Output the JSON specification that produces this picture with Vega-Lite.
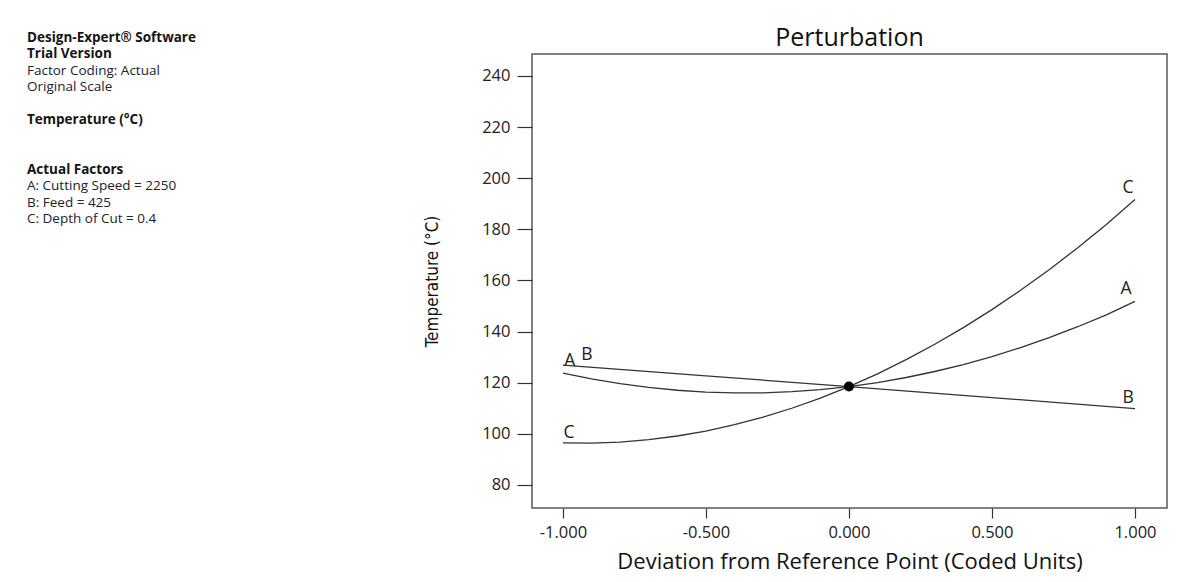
{
  "$schema": "https://vega.github.io/schema/vega-lite/v6.json",
  "background": "white",
  "padding": {"left": 27, "top": 25, "right": 5, "bottom": 2},
  "spacing": 0,
  "config": {"font": "Open Sans", "view": {"stroke": null}},
  "hconcat": [
    {
      "width": 395,
      "height": 220,
      "view": {"stroke": null},
      "data": {"values": [
        {"line": 0, "text": "Design-Expert® Software", "role": "heading"},
        {"line": 1, "text": "Trial Version", "role": "heading"},
        {"line": 2, "text": "Factor Coding: Actual", "role": "info"},
        {"line": 3, "text": "Original Scale", "role": "info"},
        {"line": 5, "text": "Temperature (°C)", "role": "heading"},
        {"line": 8, "text": "Actual Factors", "role": "heading"},
        {"line": 9, "text": "A: Cutting Speed = 2250", "role": "info"},
        {"line": 10, "text": "B: Feed = 425", "role": "info"},
        {"line": 11, "text": "C: Depth of Cut = 0.4", "role": "info"}
      ]},
      "encoding": {
        "x": {"datum": 0, "type": "quantitative", "scale": {"domain": [0, 1], "nice": false}, "axis": null},
        "y": {"field": "line", "type": "quantitative", "scale": {"domain": [14.303, 0.97], "nice": false, "zero": false}, "axis": null},
        "text": {"field": "text"}
      },
      "layer": [
        {
          "transform": [{"filter": "datum.role === 'heading'"}],
          "mark": {"type": "text", "align": "left", "baseline": "middle", "fontSize": 13.5, "fontWeight": "bold", "color": "#141414"}
        },
        {
          "transform": [{"filter": "datum.role === 'info'"}],
          "mark": {"type": "text", "align": "left", "baseline": "middle", "fontSize": 13.5, "fontWeight": "normal", "color": "#222233"}
        }
      ]
    },
    {
      "width": 635,
      "height": 454,
      "view": {"stroke": "#5a5a5a", "strokeWidth": 1.5},
      "title": {"text": "Perturbation", "fontSize": 25, "fontWeight": "normal", "color": "#111111", "anchor": "middle", "offset": 3},
      "encoding": {
        "x": {
          "field": "dev", "type": "quantitative",
          "scale": {"domain": [-1.108, 1.112], "nice": false, "zero": false},
          "axis": {
            "title": "Deviation from Reference Point (Coded Units)",
            "values": [-1, -0.5, 0, 0.5, 1],
            "labelExpr": "replace(format(datum.value, '.3f'), '\u2212', '-')",
            "grid": false, "domain": false,
            "tickSize": 10, "tickColor": "#333333", "tickWidth": 1.2,
            "labelPadding": 6, "labelFontSize": 16.5, "labelColor": "#222222",
            "titleFontSize": 22, "titleFontWeight": "normal", "titleColor": "#111111", "titlePadding": 11
          }
        },
        "y": {
          "field": "temp", "type": "quantitative",
          "scale": {"domain": [71, 248.6], "nice": false, "zero": false},
          "axis": {
            "title": "Temperature (°C)",
            "values": [80, 100, 120, 140, 160, 180, 200, 220, 240],
            "grid": false, "domain": false,
            "tickSize": 15, "tickColor": "#333333", "tickWidth": 1.2,
            "labelPadding": 7, "labelFontSize": 16.5, "labelColor": "#222222",
            "titleFont": "Liberation Sans Narrow, DejaVu Sans Condensed, sans-serif",
            "titleFontSize": 17, "titleFontWeight": "normal", "titleColor": "#111111", "titlePadding": 40
          }
        }
      },
      "layer": [
        {
          "data": {"values": [
            {"factor": "A", "dev": -1.0, "temp": 123.8},
            {"factor": "A", "dev": -0.9, "temp": 121.54},
            {"factor": "A", "dev": -0.8, "temp": 119.67},
            {"factor": "A", "dev": -0.7, "temp": 118.18},
            {"factor": "A", "dev": -0.6, "temp": 117.07},
            {"factor": "A", "dev": -0.5, "temp": 116.35},
            {"factor": "A", "dev": -0.4, "temp": 116.01},
            {"factor": "A", "dev": -0.3, "temp": 116.06},
            {"factor": "A", "dev": -0.2, "temp": 116.49},
            {"factor": "A", "dev": -0.1, "temp": 117.3},
            {"factor": "A", "dev": 0.0, "temp": 118.5},
            {"factor": "A", "dev": 0.1, "temp": 120.08},
            {"factor": "A", "dev": 0.2, "temp": 122.05},
            {"factor": "A", "dev": 0.3, "temp": 124.4},
            {"factor": "A", "dev": 0.4, "temp": 127.13},
            {"factor": "A", "dev": 0.5, "temp": 130.25},
            {"factor": "A", "dev": 0.6, "temp": 133.75},
            {"factor": "A", "dev": 0.7, "temp": 137.64},
            {"factor": "A", "dev": 0.8, "temp": 141.91},
            {"factor": "A", "dev": 0.9, "temp": 146.56},
            {"factor": "A", "dev": 1.0, "temp": 151.8},
            {"factor": "B", "dev": -1.0, "temp": 126.9},
            {"factor": "B", "dev": -0.5, "temp": 122.7},
            {"factor": "B", "dev": 0.0, "temp": 118.5},
            {"factor": "B", "dev": 0.5, "temp": 114.2},
            {"factor": "B", "dev": 1.0, "temp": 109.9},
            {"factor": "C", "dev": -1.0, "temp": 96.45},
            {"factor": "C", "dev": -0.9, "temp": 96.36},
            {"factor": "C", "dev": -0.8, "temp": 96.79},
            {"factor": "C", "dev": -0.7, "temp": 97.72},
            {"factor": "C", "dev": -0.6, "temp": 99.16},
            {"factor": "C", "dev": -0.5, "temp": 101.11},
            {"factor": "C", "dev": -0.4, "temp": 103.57},
            {"factor": "C", "dev": -0.3, "temp": 106.54},
            {"factor": "C", "dev": -0.2, "temp": 110.02},
            {"factor": "C", "dev": -0.1, "temp": 114.0},
            {"factor": "C", "dev": 0.0, "temp": 118.5},
            {"factor": "C", "dev": 0.1, "temp": 123.5},
            {"factor": "C", "dev": 0.2, "temp": 129.02},
            {"factor": "C", "dev": 0.3, "temp": 135.04},
            {"factor": "C", "dev": 0.4, "temp": 141.57},
            {"factor": "C", "dev": 0.5, "temp": 148.61},
            {"factor": "C", "dev": 0.6, "temp": 156.16},
            {"factor": "C", "dev": 0.7, "temp": 164.22},
            {"factor": "C", "dev": 0.8, "temp": 172.79},
            {"factor": "C", "dev": 0.9, "temp": 181.86},
            {"factor": "C", "dev": 1.0, "temp": 191.7}
          ]},
          "mark": {"type": "line", "color": "#333333", "strokeWidth": 1.3},
          "encoding": {"detail": {"field": "factor", "type": "nominal"}}
        },
        {
          "data": {"values": [{"dev": 0, "temp": 118.5}]},
          "mark": {"type": "point", "filled": true, "size": 100, "color": "#000000", "opacity": 1}
        },
        {
          "data": {"values": [
            {"label": "A", "dev": -0.976, "temp": 128.5},
            {"label": "B", "dev": -0.916, "temp": 130.8},
            {"label": "C", "dev": -0.979, "temp": 100.3},
            {"label": "C", "dev": 0.976, "temp": 196.2},
            {"label": "A", "dev": 0.969, "temp": 156.7},
            {"label": "B", "dev": 0.976, "temp": 114.0}
          ]},
          "mark": {"type": "text", "align": "center", "baseline": "middle", "fontSize": 17.5, "color": "#222222"},
          "encoding": {"text": {"field": "label"}}
        }
      ]
    }
  ]
}
